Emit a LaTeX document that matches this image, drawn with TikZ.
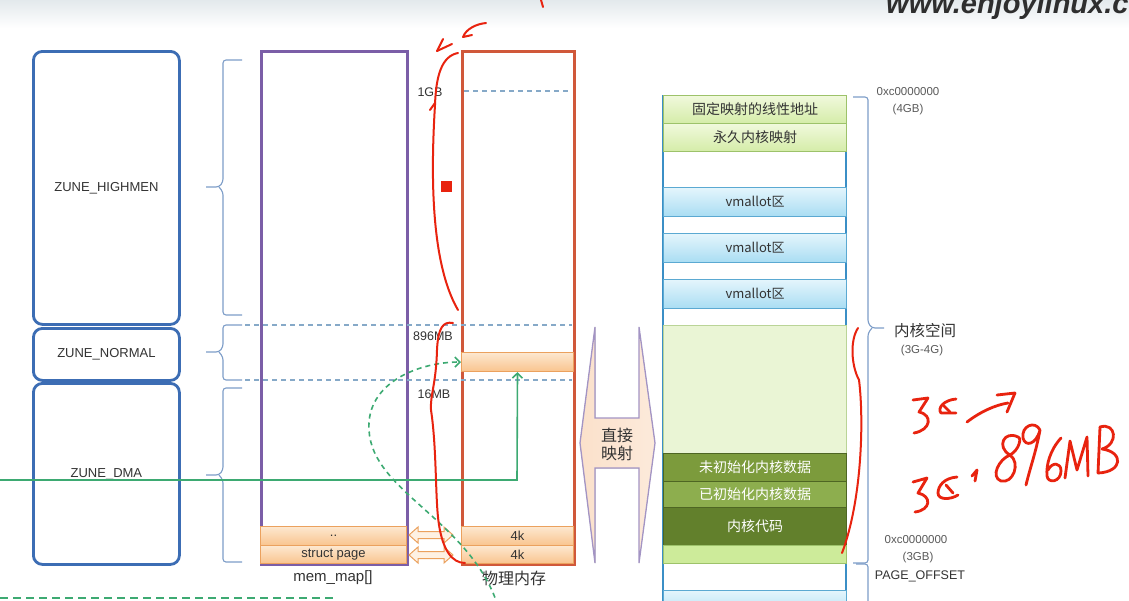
\documentclass[tikz,border=0pt]{standalone}
\usepackage{fontspec}
\setmainfont{Liberation Sans}
\newfontfamily\cjk{Noto Sans CJK SC}
\usetikzlibrary{arrows.meta}
\definecolor{zoneblue}{HTML}{3C6DB4}
\definecolor{bracecol}{HTML}{7D9DC8}
\definecolor{mmpurple}{HTML}{7B5EA7}
\definecolor{physred}{HTML}{D0583A}
\definecolor{dashblue}{HTML}{86A9C8}
\definecolor{orfillA}{HTML}{FDE8D0}
\definecolor{orfillB}{HTML}{F9C48E}
\definecolor{orline}{HTML}{EBA15E}
\definecolor{gline}{HTML}{3DAA72}
\definecolor{colblue}{HTML}{3B8FC6}
\definecolor{lgA}{HTML}{F0F9DC}
\definecolor{lgB}{HTML}{D4ECA8}
\definecolor{lgline}{HTML}{9DC26A}
\definecolor{vbA}{HTML}{E4F5FC}
\definecolor{vbB}{HTML}{A9DDF3}
\definecolor{vbline}{HTML}{5BA9D2}
\definecolor{olive1}{HTML}{7C9B3C}
\definecolor{olive2}{HTML}{8DAE4E}
\definecolor{olive3}{HTML}{62802C}
\definecolor{kbig}{HTML}{EAF5D5}
\definecolor{kbot}{HTML}{CDEB9A}
\definecolor{pen}{HTML}{E8230F}
\definecolor{peach}{HTML}{FBE1CB}
\definecolor{arrowedge}{HTML}{A394C4}
\definecolor{labgray}{HTML}{333333}
\definecolor{addrgray}{HTML}{5A5A5A}
\definecolor{bannerA}{HTML}{E3E9EC}
\tikzset{
  zone/.style={draw=zoneblue, line width=2.8pt, rounded corners=9pt, minimum width=146pt, anchor=north west, inner sep=0pt, font=\fontsize{13}{15}\selectfont, text=labgray},
  brc/.style={draw=bracecol, line width=1.1pt, rounded corners=3pt},
  dashl/.style={draw=dashblue, line width=1.1pt, dash pattern=on 5pt off 4pt},
  ocell/.style={draw=orline, line width=1pt, top color=orfillA, bottom color=orfillB, anchor=north west, inner sep=0pt, font=\fontsize{13}{14}\selectfont, text=labgray},
  gconn/.style={color=gline, line width=1.6pt},
  rcell/.style={anchor=north west, minimum width=183pt, inner sep=0pt, font=\cjk\fontsize{14}{16}\selectfont, line width=1.2pt},
  rgreen/.style={rcell, draw=lgline, top color=lgA, bottom color=lgB, text=black!80},
  rblue/.style={rcell, draw=vbline, top color=vbA, bottom color=vbB, font=\cjk\fontsize{13}{15}\selectfont, text=black!80},
  rblank/.style={rcell},
  rbig/.style={rcell, draw=lgline!70, fill=kbig},
  rdark/.style={rcell, draw=olive3!80!black, text=white},
  rlight/.style={rcell, draw=lgline, fill=kbot},
  addr/.style={font=\fontsize{11.5}{13}\selectfont, text=addrgray},
  penline/.style={draw=pen, line width=2pt, line cap=round, line join=round},
  hand/.style={draw=pen, line width=2.8pt, line cap=round, line join=round},
  harrow/.pic={\draw[draw=orline, fill=orfillA!60, line width=1pt] (-22,0) -- (-13,-8) -- (-13,-3.5) -- (13,-3.5) -- (13,-8) -- (22,0) -- (13,8) -- (13,3.5) -- (-13,3.5) -- (-13,8) -- cycle;}
}
\begin{document}
\begin{tikzpicture}[x=1pt,y=-1pt]
\useasboundingbox (0,0) rectangle (1129,600);
\fill[white] (0,0) rectangle (1129,600);
% banner
\shade[top color=bannerA, bottom color=white] (0,0) rectangle (1129,28);
\node[anchor=base west, inner sep=0pt, font=\fontsize{29}{29}\selectfont\bfseries\itshape, text=black!82] (wm) at (886,13) {www.enjoylinux.cn};

% zone boxes
\node[zone, minimum height=273pt] (zh) at (32,50) {ZUNE\_HIGHMEN};
\node[zone, minimum height=52pt] (zn) at (32,327) {ZUNE\_NORMAL};
\node[zone, minimum height=181pt] (zd) at (32,382) {ZUNE\_DMA};

% braces
\draw[brc] (242,60) -- (223,60) -- (223,182) -- (219,187) -- (206,187);
\draw[brc] (219,187) -- (223,192) -- (223,315) -- (242,315);
\draw[brc] (242,325) -- (223,325) -- (223,347) -- (219,352) -- (206,352);
\draw[brc] (219,352) -- (223,357) -- (223,380) -- (242,380);
\draw[brc] (242,388) -- (223,388) -- (223,470) -- (219,475) -- (206,475);
\draw[brc] (219,475) -- (223,480) -- (223,562) -- (242,562);

% mem_map and physical memory
\node[draw=mmpurple, line width=2.5pt, anchor=north west, minimum width=146pt, minimum height=513pt, inner sep=0pt] (mm) at (260,50) {};
\node[draw=physred, line width=2.5pt, anchor=north west, minimum width=112pt, minimum height=513pt, inner sep=0pt] (pm) at (461,50) {};

% dashed lines
\draw[dashl] (245,325) -- (572,325);
\draw[dashl] (245,380) -- (572,380);
\draw[dashl] (464,91) -- (570,91);

% cells
\node[ocell, minimum width=146pt, minimum height=19pt] (mc1) at (260,526) {..};
\node[ocell, minimum width=146pt, minimum height=18pt] (mc2) at (260,545) {struct page};
\node[ocell, minimum width=112pt, minimum height=19pt] (pc1) at (461,526) {4k};
\node[ocell, minimum width=112pt, minimum height=18pt] (pc2) at (461,545) {4k};
\node[ocell, minimum width=112pt, minimum height=19pt] (pc) at (461,352) {};

\pic at (431,535) {harrow};
\pic at (431,555) {harrow};

% labels
\node[font=\fontsize{12.5}{14}\selectfont, text=labgray] (l1g) at (430,92) {1GB};
\node[font=\fontsize{12.5}{14}\selectfont, text=labgray] (l896) at (433,336) {896MB};
\node[font=\fontsize{12.5}{14}\selectfont, text=labgray] (l16) at (434,394) {16MB};
\node[font=\fontsize{15}{17}\selectfont, text=labgray] (mmlab) at (333,578) {mem\_map[]};
\node[font=\cjk\fontsize{16}{18}\selectfont, text=labgray] (pmlab) at (514,578) {物理内存};

% green connectors
\coordinate (gs) at (0,480);
\coordinate (gc) at (517,480);
\draw[gconn, -{Straight Barb[length=5pt,width=10pt]}] (gs) -- (gc) -- (pc.south);
\coordinate (gd) at (498,606);
\draw[gconn, dash pattern=on 5pt off 4pt, -{Straight Barb[length=5pt,width=10pt]}] (gd) .. controls (470,520) and (372,492) .. (369,430) .. controls (366,382) and (420,362) .. (pc.west);
\coordinate (bl1) at (0,598);
\coordinate (bl2) at (336,598);
\draw[gconn, dash pattern=on 8pt off 5pt] (bl1) -- (bl2);

% big double arrow
\filldraw[left color=peach, right color=peach!70, draw=arrowedge, line width=1.3pt] (595,327) -- (595,418) -- (639,418) -- (639,327) -- (655,443) -- (639,563) -- (639,468) -- (595,468) -- (595,563) -- (580,443) -- cycle;
\node[font=\cjk\fontsize{16}{18}\selectfont, align=center, text=labgray, inner sep=0pt] (zj) at (617,444) {直接\\映射};

% right column
\draw[colblue, line width=2.2pt] (663,95) -- (663,610);
\draw[colblue, line width=2.2pt] (846,95) -- (846,610);
\node[rgreen, minimum height=28pt] (f1) at (663,95) {固定映射的线性地址};
\node[rgreen, minimum height=28pt] (f2) at (663,123) {永久内核映射};
\node[rblank, minimum height=36pt] (e1) at (663,151) {};
\node[rblue, minimum height=29pt] (v1) at (663,187) {vmallot区};
\node[rblank, minimum height=17pt] (e2) at (663,216) {};
\node[rblue, minimum height=29pt] (v2) at (663,233) {vmallot区};
\node[rblank, minimum height=17pt] (e3) at (663,262) {};
\node[rblue, minimum height=29pt] (v3) at (663,279) {vmallot区};
\node[rblank, minimum height=17pt] (e4) at (663,308) {};
\node[rbig, minimum height=128pt] (k0) at (663,325) {};
\node[rdark, fill=olive1, minimum height=28pt] (k1) at (663,453) {未初始化内核数据};
\node[rdark, fill=olive2, minimum height=26pt] (k2) at (663,481) {已初始化内核数据};
\node[rdark, fill=olive3, minimum height=38pt] (k3) at (663,507) {内核代码};
\node[rlight, minimum height=18pt] (k4) at (663,545) {};
\node[rblank, minimum height=27pt] (e5) at (663,563) {};
\node[rblue, minimum height=30pt] (b1) at (663,590) {};

% right brace
\draw[brc] (853,97) -- (868,97) -- (868,323) -- (872,328) -- (884,328);
\draw[brc] (872,328) -- (868,333) -- (868,563) -- (853,563);
\draw[brc] (856,564) -- (868,564) -- (868,610);

% address labels
\node[addr] (a4a) at (908,92) {0xc0000000};
\node[addr] (a4b) at (908,110) {(4GB)};
\node[font=\cjk\fontsize{15.5}{17}\selectfont, text=labgray] (ks) at (925,331) {内核空间};
\node[addr] (ks2) at (922,351) {(3G-4G)};
\node[addr] (a3a) at (916,540) {0xc0000000};
\node[addr] (a3b) at (918,558) {(3GB)};
\node[font=\fontsize{12.5}{14}\selectfont, text=labgray] (po) at (920,576) {PAGE\_OFFSET};

% red pen marks
\draw[penline] (541,0) -- (543,7);
\draw[penline] (452,44) -- (437,51);
\draw[penline] (443,39) -- (437,51);
\draw[penline] (486,23) .. controls (476,24) and (466,29) .. (463,37) -- (472,35);
\draw[penline] (458,53) .. controls (442,56) and (436,75) .. (435,105) .. controls (431,170) and (430,262) .. (458,310);
\draw[penline] (435,103) -- (430,110);
\fill[pen] (441,181) rectangle (452,192);
\draw[penline] (453,323) .. controls (443,321) and (438,328) .. (437,350) .. controls (436,385) and (430,395) .. (431,410) .. controls (437,450) and (435,500) .. (439,525) .. controls (443,550) and (452,563) .. (465,563);
\draw[penline] (858,328) .. controls (850,340) and (851,365) .. (859,380) .. controls (864,420) and (862,500) .. (842,553);
% handwriting: 3G ->
\draw[hand] (913,400) -- (928,398) -- (919,412) .. controls (933,415) and (931,430) .. (914,433);
\draw[hand] (956,399) .. controls (944,400) and (937,408) .. (941,413) -- (956,413);
\draw[hand] (944,406) -- (950,412);
\draw[hand] (967,422) .. controls (980,412) and (995,405) .. (1008,403);
\draw[hand] (997,395) -- (1015,393) -- (1007,412);
% handwriting: 3G+896MB
\draw[hand] (913,482) -- (927,478) -- (918,493) .. controls (932,496) and (931,510) .. (915,512);
\draw[hand] (957,477) .. controls (944,478) and (938,486) .. (938,493) .. controls (938,500) and (950,500) .. (958,495);
\draw[hand] (946,485) -- (953,493);
\draw[hand] (972,476) -- (977,470) -- (975,481);
\draw[hand] (1018,437) .. controls (1004,430) and (996,447) .. (1010,455) .. controls (1021,463) and (1013,484) .. (1001,481) .. controls (990,477) and (999,459) .. (1010,455) .. controls (1019,450) and (1022,438) .. (1018,437);
\draw[hand] (1040,430) .. controls (1035,420) and (1021,426) .. (1023,438) .. controls (1025,447) and (1036,445) .. (1040,430) .. controls (1036,452) and (1030,468) .. (1026,485);
\draw[hand] (1061,438) .. controls (1050,450) and (1046,465) .. (1047,476) .. controls (1048,484) and (1061,482) .. (1061,471) .. controls (1061,462) and (1052,462) .. (1048,470);
\draw[hand] (1065,478) -- (1070,441) -- (1077,470) -- (1087,437) -- (1088,476);
\draw[hand] (1100,427) -- (1098,473);
\draw[hand] (1100,427) .. controls (1116,422) and (1119,444) .. (1102,449) .. controls (1124,452) and (1123,472) .. (1098,473);
\end{tikzpicture}
\end{document}
